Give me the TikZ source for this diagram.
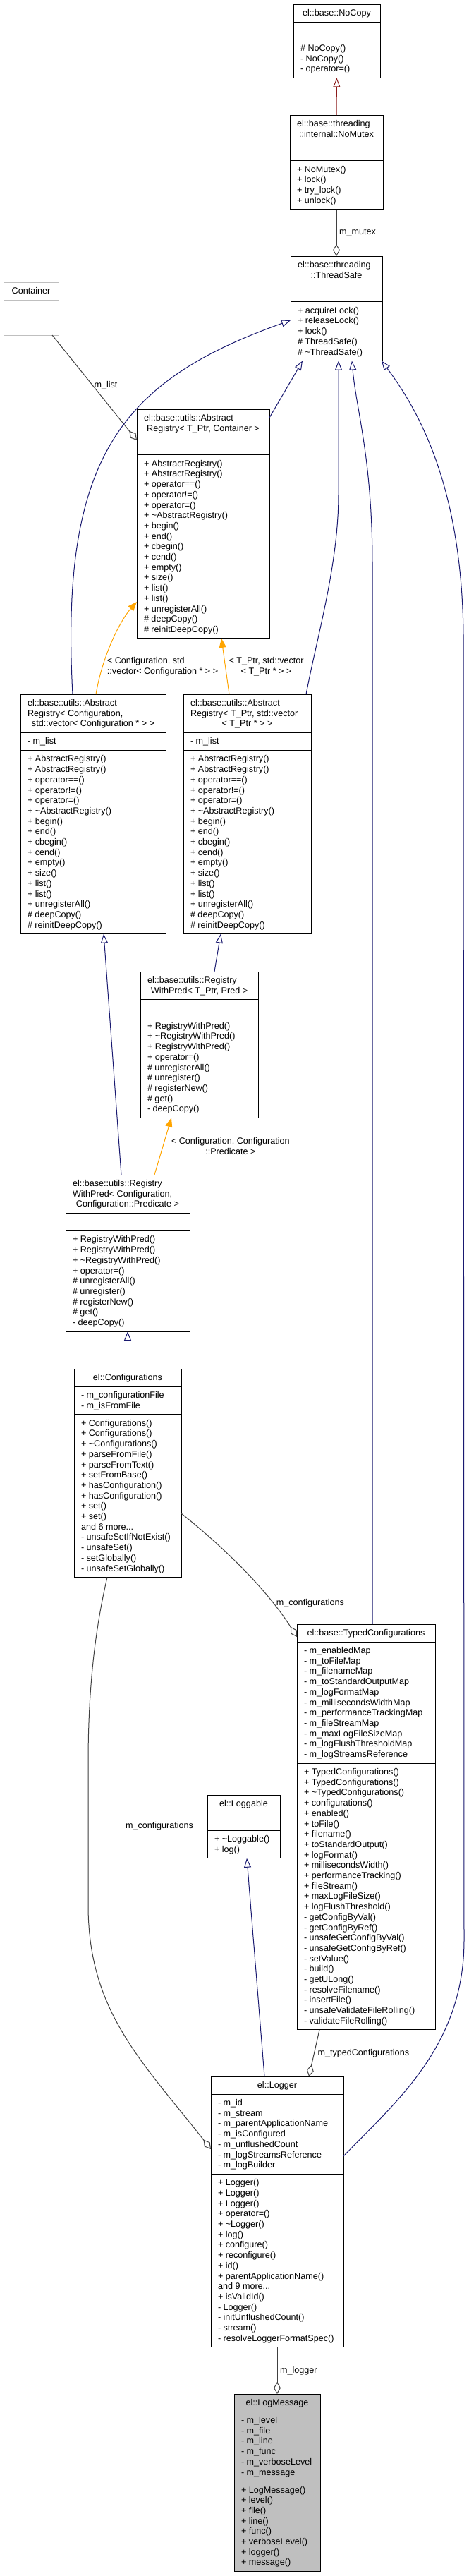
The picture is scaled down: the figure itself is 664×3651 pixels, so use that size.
\documentclass[tikz,border=0pt]{standalone}
\usepackage{fontspec}
\setmainfont{Liberation Sans}
\usetikzlibrary{arrows.meta}
\definecolor{inhblue}{HTML}{191970}
\definecolor{privred}{HTML}{8B1A1A}
\definecolor{tmplorange}{HTML}{FFA500}
\definecolor{agggray}{HTML}{404040}
\definecolor{boxgray}{HTML}{BFBFBF}
\definecolor{msgfill}{HTML}{BFBFBF}
\newcommand\sstrut{\rule{0pt}{10pt}}
\newcommand\tld{\textasciitilde}
% class box: [style]{name}{x}{top}{width}{title lines}{attr lines}{method lines}
\newcommand\cls[8][clsbox]{%
  \pgfmathsetmacro\clsHT{25+(#6-1)*14.7}%
  \pgfmathsetmacro\clsHA{25+max(#7-1,0)*14.7}%
  \pgfmathsetmacro\clsHM{25+max(#8-1,0)*14.7}%
  \pgfmathsetmacro\clsHTA{\clsHT+\clsHA}%
  \pgfmathsetmacro\clsH{\clsHTA+\clsHM}%
  \expandafter\xdef\csname clsT#2\endcsname{\clsHT}%
  \expandafter\xdef\csname clsTA#2\endcsname{\clsHTA}%
  \node[#1, minimum width=#5, minimum height=\clsH, anchor=north west] (#2) at (#3,-#4) {};
  \draw[#1 sep] ([yshift=-\clsHT]#2.north west) -- ([yshift=-\clsHT]#2.north east);
  \draw[#1 sep] ([yshift=-\clsHTA]#2.north west) -- ([yshift=-\clsHTA]#2.north east);
}
\newcommand\ctitle[2]{\node[txt, anchor=north] (#1-title) at ([yshift=-6.5]#1.north) {\sstrut#2};}
\newcommand\ltitle[4]{%
  \node[txt, anchor=north west] (#1-title) at ([xshift=10,yshift=-6.5]#1.north west) {\sstrut#2};
  \node[txt, anchor=north] (#1-title2) at ([yshift=-6.5-14.7*#3]#1.north) {\sstrut#4};}
\newcommand\cattrs[2]{\pgfmathsetmacro\clsY{\csname clsT#1\endcsname+6.5}%
  \node[txt, anchor=north west] (#1-attrs) at ([xshift=10,yshift=-\clsY]#1.north west) {\sstrut#2};}
\newcommand\cmeths[2]{\pgfmathsetmacro\clsY{\csname clsTA#1\endcsname+6.5}%
  \node[txt, anchor=north west] (#1-meths) at ([xshift=10,yshift=-\clsY]#1.north west) {\sstrut#2};}
\newcommand\armeths{+ AbstractRegistry()\\+ AbstractRegistry()\\+ operator==()\\+ operator!=()\\+ operator=()\\+ \tld AbstractRegistry()\\+ begin()\\+ end()\\+ cbegin()\\+ cend()\\+ empty()\\+ size()\\+ list()\\+ list()\\+ unregisterAll()\\\# deepCopy()\\\# reinitDeepCopy()}
\begin{document}
\begin{tikzpicture}[x=1pt, y=1pt, font=\fontsize{12.6}{14.7}\selectfont,
  clsbox/.style={rectangle, draw=black, line width=1pt, fill=white, inner sep=0pt, outer sep=0pt},
  extbox/.style={clsbox, draw=boxgray},
  mainbox/.style={clsbox, fill=msgfill},
  clsbox sep/.style={draw=black, line width=1pt},
  extbox sep/.style={draw=boxgray, line width=1pt},
  mainbox sep/.style={draw=black, line width=1pt},
  txt/.style={inner sep=0pt, outer sep=0pt, align=left, text=black},
  lbl/.style={inner sep=0pt, outer sep=0pt, text=black},
  inh/.style={draw=inhblue, line width=1pt, -{Triangle[length=13pt, width=10pt, fill=white]}},
  priv/.style={inh, draw=privred},
  tmpl/.style={draw=tmplorange, line width=1pt, -{Triangle[length=13pt, width=10pt]}},
  agg/.style={draw=agggray, line width=1pt, -{Diamond[length=17pt, width=10pt, fill=white]}}]
\fill[white] (0,0) rectangle (664,-3651);
\useasboundingbox (0,0) rectangle (664,-3651);

% ---------- classes ----------
\cls{nocopy}{416}{6}{123}{1}{0}{3}
\ctitle{nocopy}{el::base::NoCopy}
\cmeths{nocopy}{\# NoCopy()\\- NoCopy()\\- operator=()}

\cls{nomutex}{411}{163}{132}{2}{0}{4}
\ltitle{nomutex}{el::base::threading}{1}{::internal::NoMutex}
\cmeths{nomutex}{+ NoMutex()\\+ lock()\\+ try\_lock()\\+ unlock()}

\cls{threadsafe}{412}{363}{130}{2}{0}{5}
\ltitle{threadsafe}{el::base::threading}{1}{::ThreadSafe}
\cmeths{threadsafe}{+ acquireLock()\\+ releaseLock()\\+ lock()\\\# ThreadSafe()\\\# \tld ThreadSafe()}

\cls[extbox]{container}{5}{400}{78}{1}{0}{0}
\ctitle{container}{Container}

\cls{arcont}{194}{580}{188}{2}{0}{17}
\ltitle{arcont}{el::base::utils::Abstract}{1}{Registry< T\_Ptr, Container >}
\cmeths{arcont}{\armeths}

\cls{arconf}{29}{984}{206}{3}{1}{17}
\ltitle{arconf}{el::base::utils::Abstract\\Registry< Configuration,}{2}{std::vector< Configuration * > >}
\cattrs{arconf}{- m\_list}
\cmeths{arconf}{\armeths}

\cls{arvec}{260}{984}{181}{3}{1}{17}
\ltitle{arvec}{el::base::utils::Abstract\\Registry< T\_Ptr, std::vector}{2}{< T\_Ptr * > >}
\cattrs{arvec}{- m\_list}
\cmeths{arvec}{\armeths}

\cls{rwpt}{199}{1377}{167}{2}{0}{9}
\ltitle{rwpt}{el::base::utils::Registry}{1}{WithPred< T\_Ptr, Pred >}
\cmeths{rwpt}{+ RegistryWithPred()\\+ \tld RegistryWithPred()\\+ RegistryWithPred()\\+ operator=()\\\# unregisterAll()\\\# unregister()\\\# registerNew()\\\# get()\\- deepCopy()}

\cls{rwpc}{93}{1665}{176}{3}{0}{9}
\ltitle{rwpc}{el::base::utils::Registry\\WithPred< Configuration,}{2}{Configuration::Predicate >}
\cmeths{rwpc}{+ RegistryWithPred()\\+ RegistryWithPred()\\+ \tld RegistryWithPred()\\+ operator=()\\\# unregisterAll()\\\# unregister()\\\# registerNew()\\\# get()\\- deepCopy()}

\cls{configs}{105}{1940}{152}{1}{2}{15}
\ctitle{configs}{el::Configurations}
\cattrs{configs}{- m\_configurationFile\\- m\_isFromFile}
\cmeths{configs}{+ Configurations()\\+ Configurations()\\+ \tld Configurations()\\+ parseFromFile()\\+ parseFromText()\\+ setFromBase()\\+ hasConfiguration()\\+ hasConfiguration()\\+ set()\\+ set()\\and 6 more...\\- unsafeSetIfNotExist()\\- unsafeSet()\\- setGlobally()\\- unsafeSetGlobally()}

\cls{typedcfg}{421}{2302}{196}{1}{11}{25}
\ctitle{typedcfg}{el::base::TypedConfigurations}
\cattrs{typedcfg}{- m\_enabledMap\\- m\_toFileMap\\- m\_filenameMap\\- m\_toStandardOutputMap\\- m\_logFormatMap\\- m\_millisecondsWidthMap\\- m\_performanceTrackingMap\\- m\_fileStreamMap\\- m\_maxLogFileSizeMap\\- m\_logFlushThresholdMap\\- m\_logStreamsReference}
\cmeths{typedcfg}{+ TypedConfigurations()\\+ TypedConfigurations()\\+ \tld TypedConfigurations()\\+ configurations()\\+ enabled()\\+ toFile()\\+ filename()\\+ toStandardOutput()\\+ logFormat()\\+ millisecondsWidth()\\+ performanceTracking()\\+ fileStream()\\+ maxLogFileSize()\\+ logFlushThreshold()\\- getConfigByVal()\\- getConfigByRef()\\- unsafeGetConfigByVal()\\- unsafeGetConfigByRef()\\- setValue()\\- build()\\- getULong()\\- resolveFilename()\\- insertFile()\\- unsafeValidateFileRolling()\\- validateFileRolling()}

\cls{loggable}{294}{2544}{103}{1}{0}{2}
\ctitle{loggable}{el::Loggable}
\cmeths{loggable}{+ \tld Loggable()\\+ log()}

\cls{logger}{299}{2943}{188}{1}{7}{16}
\ctitle{logger}{el::Logger}
\cattrs{logger}{- m\_id\\- m\_stream\\- m\_parentApplicationName\\- m\_isConfigured\\- m\_unflushedCount\\- m\_logStreamsReference\\- m\_logBuilder}
\cmeths{logger}{+ Logger()\\+ Logger()\\+ Logger()\\+ operator=()\\+ \tld Logger()\\+ log()\\+ configure()\\+ reconfigure()\\+ id()\\+ parentApplicationName()\\and 9 more...\\+ isValidId()\\- Logger()\\- initUnflushedCount()\\- stream()\\- resolveLoggerFormatSpec()}

\cls[mainbox]{logmsg}{332}{3393}{122}{1}{6}{8}
\ctitle{logmsg}{el::LogMessage}
\cattrs{logmsg}{- m\_level\\- m\_file\\- m\_line\\- m\_func\\- m\_verboseLevel\\- m\_message}
\cmeths{logmsg}{+ LogMessage()\\+ level()\\+ file()\\+ line()\\+ func()\\+ verboseLevel()\\+ logger()\\+ message()}

% ---------- connectors ----------
\draw[priv] (nomutex.north) -- (nocopy.south);
\draw[agg] (nomutex.south) -- node[lbl, anchor=west, xshift=4] (lmutex) {m\_mutex} (threadsafe.north);
\draw[agg] ([xshift=30]container.south) -- node[lbl, pos=0.48, anchor=west, xshift=2] (llist) {m\_list} ([yshift=-44]arcont.north west);
\draw[inh] ([yshift=-12]arcont.north east) -- ([xshift=-48]threadsafe.south);
\draw[inh] ([xshift=74]arconf.north west) .. controls (85,-650) and (170,-540) .. ([yshift=-91]threadsafe.north west);
\draw[inh] ([xshift=174]arvec.north west) .. controls (450,-900) and (480,-800) .. (480,-700) -- ([xshift=3]threadsafe.south);
\draw[inh] ([xshift=107]typedcfg.north west) -- (528,-800) .. controls (528,-650) and (505,-580) .. ([xshift=22]threadsafe.south);
\draw[inh] ([yshift=-113]logger.north east) .. controls (560,-2980) and (658,-2900) .. (658,-2750) -- (657,-900) .. controls (655,-700) and (600,-590) .. ([xshift=-1]threadsafe.south east);
\draw[inh] ([xshift=105]rwpt.north west) -- ([xshift=53]arvec.south west);
\draw[inh] ([xshift=79]rwpc.north west) -- ([xshift=118]arconf.south west);
\draw[tmpl] ([xshift=126]rwpc.north west) -- node[lbl, align=center, anchor=west, xshift=12] (lrwp) {< Configuration, Configuration\\::Predicate >} ([xshift=44]rwpt.south west);
\draw[tmpl] ([xshift=65]arvec.north west) -- node[lbl, align=center, anchor=west, xshift=5] (lvec) {< T\_Ptr, std::vector\\< T\_Ptr * > >} ([xshift=120]arcont.south west);
\draw[tmpl] ([xshift=107]arconf.north west) .. controls (145,-930) and (170,-880) .. ([yshift=-273]arcont.north west) node[lbl, align=left, anchor=west, pos=0.25, xshift=6.5] (lconf) {< Configuration, std\\::vector< Configuration * > >};
\draw[inh] ([xshift=76]configs.north west) -- ([xshift=88]rwpc.south west);
\draw[agg] ([yshift=-205]configs.north east) .. controls (320,-2195) and (380,-2255) .. ([yshift=-18]typedcfg.north west) node[lbl, pos=0.75, anchor=west, xshift=5] (lcfg1) {m\_configurations};
\draw[agg] ([xshift=47]configs.south west) .. controls (130,-2330) and (125,-2420) .. (125,-2500) -- node[lbl, pos=0.44, anchor=west, xshift=53] (lcfg2) {m\_configurations} (125,-2700) .. controls (125,-2850) and (200,-2920) .. ([yshift=-103]logger.north west);
\draw[inh] ([xshift=76]logger.north west) -- ([xshift=56]loggable.south west);
\draw[agg] ([xshift=32]typedcfg.south west) -- node[lbl, anchor=west, xshift=5] (ltc) {m\_typedConfigurations} ([xshift=139]logger.north west);
\draw[agg] (logger.south) -- node[lbl, anchor=west, xshift=4] (llog) {m\_logger} (logmsg.north);
\end{tikzpicture}
\end{document}
